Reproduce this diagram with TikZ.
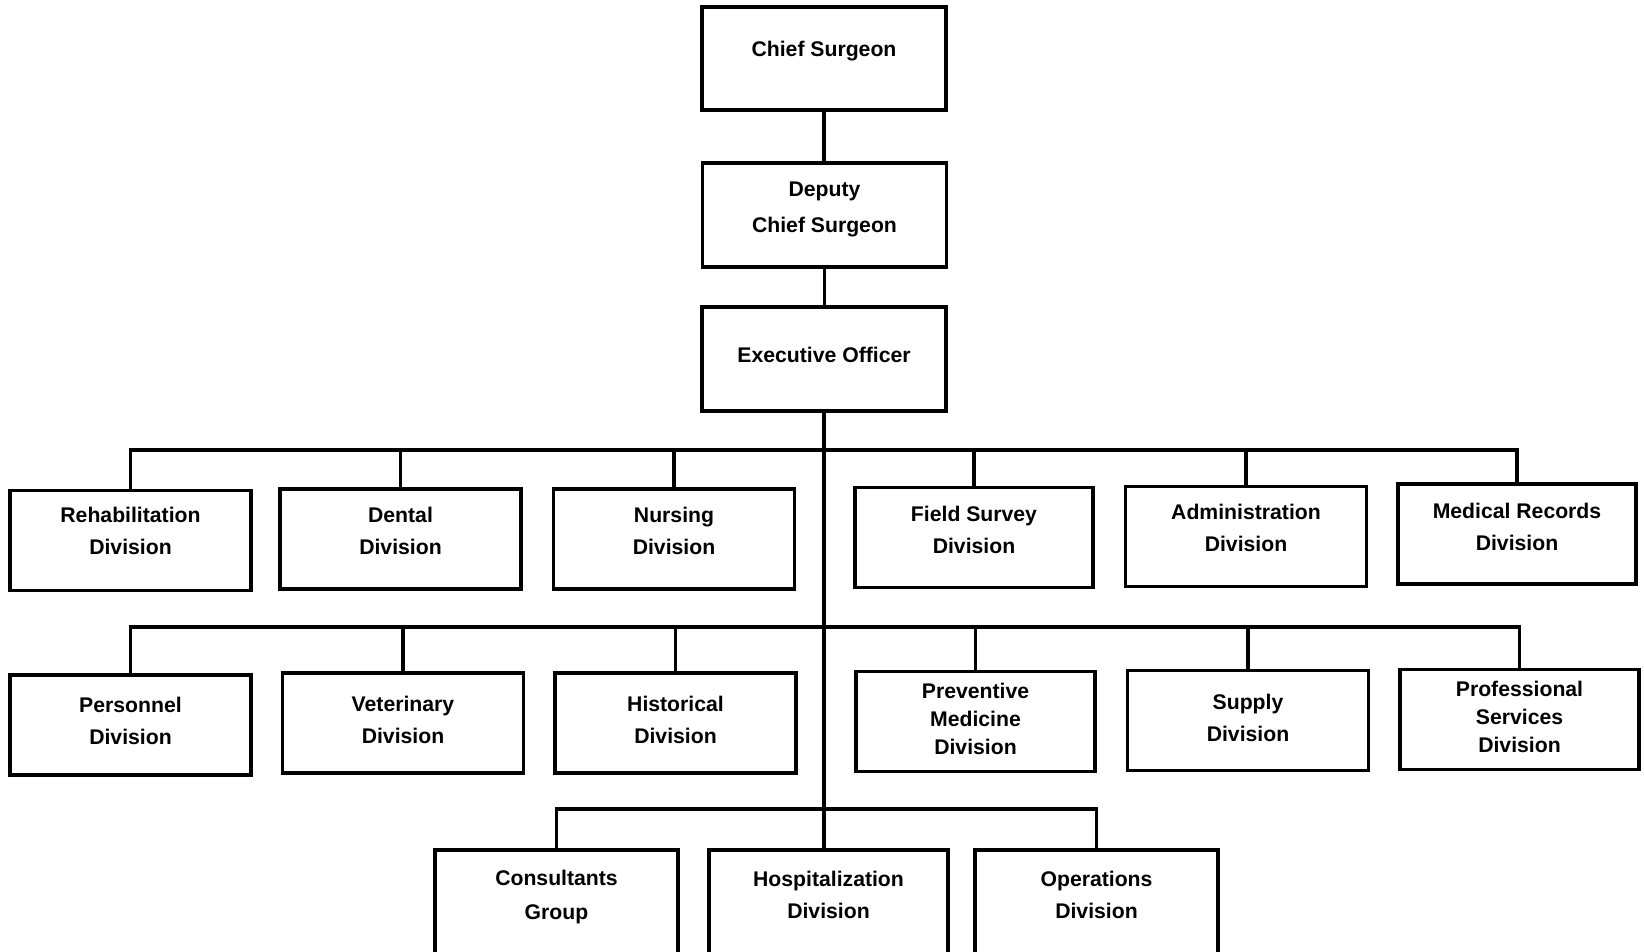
\documentclass[tikz,border=0pt]{standalone}
\usepackage{fontspec}
\setmainfont{Liberation Sans}
\usetikzlibrary{positioning}
% two or three centred lines, lifted a little inside the box
\newcommand{\boxtext}[2][4pt]{\begin{tabular}{@{}c@{}}#2\\[#1]\end{tabular}}

\begin{document}
\begin{tikzpicture}[x=0.5pt, y=-0.5pt]
	\tikzset{
	  wn/.style={draw, fill=white,
		     line width=1.7pt,
		     shape=rectangle,
		     inner sep=0pt,
		     minimum width=120.5pt,
		     minimum height=50pt,
		     font=\fontsize{10.6}{16}\selectfont\bfseries},
	  ln/.style={line width=1.7pt, line cap=rect}
	}
	\useasboundingbox (0,0) rectangle (1644,952);

	% top of the chart
	\node [wn, minimum width=122pt, minimum height=51.5pt] (chief) at (824,58.5) {\boxtext[8pt]{Chief Surgeon}};
	\node [wn, minimum width=122pt, minimum height=52pt, font=\fontsize{10.6}{18}\selectfont\bfseries] (deputy) at (824.5,215) {\boxtext[8pt]{Deputy\\Chief Surgeon}};
	\node [wn, minimum width=122pt, minimum height=52pt] (exec) at (824,359) {\boxtext[3pt]{Executive Officer}};

	% first row of divisions
	\node [wn] (rehab) at (130.5,540.5) {\boxtext[8pt]{Rehabilitation\\Division}};
	\node [wn] (dental) at (400.5,539) {\boxtext[7pt]{Dental\\Division}};
	\node [wn] (nursing) at (674,539) {\boxtext[7pt]{Nursing\\Division}};
	\node [wn, minimum width=119pt] (fieldsurvey) at (974,537.5) {\boxtext[6pt]{Field Survey\\Division}};
	\node [wn] (admin) at (1246,536.5) {\boxtext[7pt]{Administration\\Division}};
	\node [wn, minimum width=119pt] (medrecords) at (1517,534) {\boxtext[6pt]{Medical Records\\Division}};

	% second row of divisions
	\node [wn] (personnel) at (130.5,725) {\boxtext[3pt]{Personnel\\Division}};
	\node [wn] (veterinary) at (403,723) {\boxtext[2pt]{Veterinary\\Division}};
	\node [wn] (historical) at (675.5,723) {\boxtext[2pt]{Historical\\Division}};
	\node [wn, minimum width=119.5pt, font=\fontsize{10.6}{14}\selectfont\bfseries] (preventive) at (975.5,721.5) {\boxtext[1pt]{Preventive\\Medicine\\Division}};
	\node [wn] (supply) at (1248,720.5) {\boxtext[1pt]{Supply\\Division}};
	\node [wn, minimum width=119.5pt, font=\fontsize{10.6}{14}\selectfont\bfseries] (profservices) at (1519.5,719.5) {\boxtext[1pt]{Professional\\Services\\Division}};

	% bottom row, cut by the page
	\node [wn, minimum width=121.5pt, minimum height=54pt, font=\fontsize{10.6}{17}\selectfont\bfseries] (consultants) at (556.5,904) {\boxtext[8pt]{Consultants\\Group}};
	\node [wn, minimum width=119.5pt, minimum height=54pt, font=\fontsize{10.6}{16}\selectfont\bfseries] (hospitalization) at (828.5,904) {\boxtext[8pt]{Hospitalization\\Division}};
	\node [wn, minimum width=121.5pt, minimum height=54pt, font=\fontsize{10.6}{16}\selectfont\bfseries] (operations) at (1096.5,904) {\boxtext[8pt]{Operations\\Division}};

	\coordinate (bus1) at (823,450);
	\coordinate (bus2) at (823,627);
	\coordinate (bus3) at (823,809);

	\path[draw, ln] (chief.south) -- (chief.south |- deputy.north)
		(deputy.south) -- (deputy.south |- exec.north)
		(exec.south) -- (exec.south |- hospitalization.north)
		(rehab.north) |- (bus1) -| (medrecords.north)
		(personnel.north) |- (bus2) -| (profservices.north)
		(consultants.north) |- (bus3) -| (operations.north);

	\foreach \n in {dental, nursing, fieldsurvey, admin}
		\draw[ln] (\n.north) -- (\n.north |- bus1);
	\foreach \n in {veterinary, historical, preventive, supply}
		\draw[ln] (\n.north) -- (\n.north |- bus2);

\end{tikzpicture}
\end{document}
